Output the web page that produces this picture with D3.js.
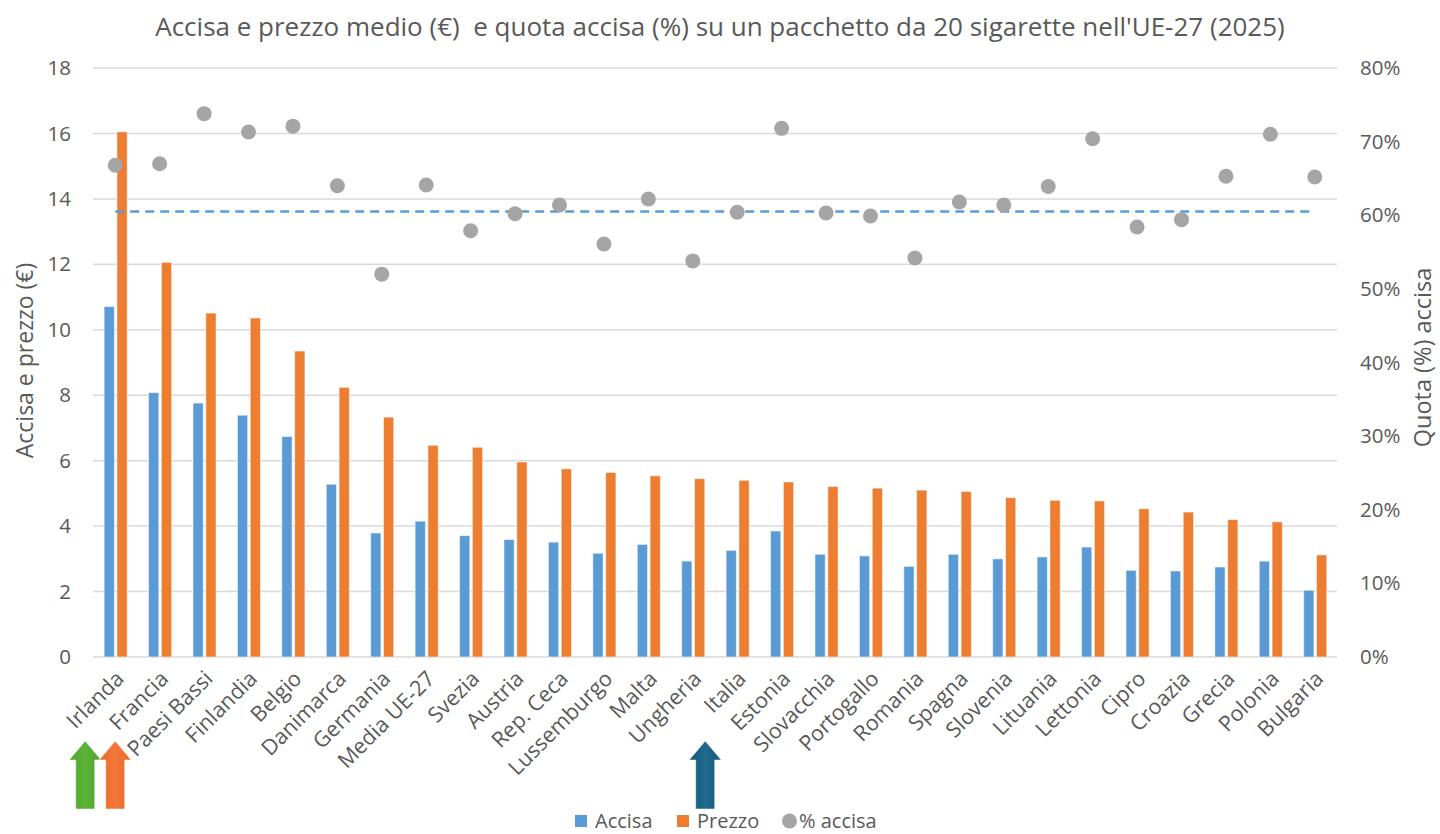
<!DOCTYPE html>
<html>
<head>
<meta charset="utf-8">
<script src="https://cdn.jsdelivr.net/npm/d3@7"></script>
<style>
  html, body { margin: 0; padding: 0; background: #fff; }
  svg { display: block; font-family: "Open Sans", "Noto Sans", sans-serif; }
</style>
</head>
<body>
<svg id="chart" width="1440" height="834"></svg>
<script>
// ---- data ----
const categories = ["Irlanda","Francia","Paesi Bassi","Finlandia","Belgio","Danimarca","Germania","Media UE-27","Svezia","Austria","Rep. Ceca","Lussemburgo","Malta","Ungheria","Italia","Estonia","Slovacchia","Portogallo","Romania","Spagna","Slovenia","Lituania","Lettonia","Cipro","Croazia","Grecia","Polonia","Bulgaria"];
const accisa = [10.71,8.08,7.76,7.39,6.74,5.28,3.79,4.15,3.71,3.59,3.51,3.17,3.44,2.93,3.26,3.85,3.14,3.09,2.77,3.14,3.00,3.06,3.36,2.65,2.63,2.75,2.93,2.04];
const prezzo = [16.05,12.06,10.51,10.36,9.35,8.24,7.33,6.47,6.41,5.96,5.75,5.64,5.54,5.45,5.40,5.35,5.21,5.16,5.10,5.06,4.87,4.79,4.77,4.53,4.43,4.20,4.13,3.12];
const quota = [0.668,0.670,0.738,0.713,0.721,0.640,0.520,0.641,0.579,0.602,0.614,0.561,0.622,0.538,0.604,0.718,0.603,0.599,0.542,0.618,0.614,0.639,0.704,0.584,0.594,0.653,0.710,0.652];
const quotaReference = 0.605;
const leftTicks = [0,2,4,6,8,10,12,14,16,18];
const rightTicks = [0,0.1,0.2,0.3,0.4,0.5,0.6,0.7,0.8];
const seriesNames = ["Accisa","Prezzo","% accisa"];
const titleText = "Accisa e prezzo medio (€)  e quota accisa (%) su un pacchetto da 20 sigarette nell'UE-27 (2025)";
const leftTitle = "Accisa e prezzo (€)";
const rightTitle = "Quota (%) accisa";

// ---- layout ----
const colors = { Accisa: "#5B9BD5", Prezzo: "#ED7D31", dot: "#A5A5A5" };
const textColor = "#595959";
const plot = { left: 93, right: 1337, top: 68, bottom: 657 };
const tickFont = "20.5px";

const svg = d3.select("#chart");

const x0 = d3.scaleBand().domain(categories).range([plot.left, plot.right]).padding(0);
const x1 = d3.scaleBand().domain(["Accisa","Prezzo"])
  .range([x0.bandwidth() * 0.25, x0.bandwidth() * 0.77]).paddingInner(0.2);
const y = d3.scaleLinear().domain([0, 18]).range([plot.bottom, plot.top]);
const y2 = d3.scaleLinear().domain([0, 0.8]).range([plot.bottom, plot.top]);

// gridlines
svg.append("g").selectAll("line").data(leftTicks).join("line")
  .attr("x1", plot.left).attr("x2", plot.right)
  .attr("y1", d => y(d)).attr("y2", d => y(d))
  .attr("stroke", "#D9D9D9").attr("stroke-width", 1.5);

// left axis
const gl = svg.append("g").attr("transform", `translate(${plot.left - 22},0)`)
  .call(d3.axisLeft(y).tickValues(leftTicks).tickSize(0).tickPadding(0).tickFormat(d3.format("d")));
gl.select(".domain").remove();
gl.selectAll("text").attr("fill", textColor).style("font-size", tickFont).style("font-family", "'Open Sans', sans-serif");

// right axis
const gr = svg.append("g").attr("transform", `translate(${plot.right + 23},0)`)
  .call(d3.axisRight(y2).tickValues(rightTicks).tickSize(0).tickPadding(0).tickFormat(d3.format(".0%")));
gr.select(".domain").remove();
gr.selectAll("text").attr("fill", textColor).style("font-size", tickFont).style("font-family", "'Open Sans', sans-serif");

// bars
const rows = categories.map((c, i) => ({ c, Accisa: accisa[i], Prezzo: prezzo[i], q: quota[i] }));
const groups = svg.append("g").selectAll("g").data(rows).join("g")
  .attr("transform", d => `translate(${x0(d.c)},0)`);
groups.selectAll("rect").data(d => ["Accisa","Prezzo"].map(k => ({ k, v: d[k] }))).join("rect")
  .attr("x", d => x1(d.k)).attr("width", x1.bandwidth())
  .attr("y", d => y(d.v)).attr("height", d => y(0) - y(d.v))
  .attr("fill", d => colors[d.k])
  .attr("stroke", "#ffffff").attr("stroke-opacity", 0.55).attr("stroke-width", 1);

// reference dashed line
svg.append("line")
  .attr("x1", x0(categories[0]) + x0.bandwidth() / 2)
  .attr("x2", x0(categories[categories.length - 1]) + x0.bandwidth() / 2)
  .attr("y1", y2(quotaReference)).attr("y2", y2(quotaReference))
  .attr("stroke", "#5B9BD5").attr("stroke-width", 2.5).attr("stroke-dasharray", "9,6");

// dots
svg.append("g").selectAll("circle").data(rows).join("circle")
  .attr("cx", d => x0(d.c) + x0.bandwidth() / 2)
  .attr("cy", d => y2(d.q))
  .attr("r", 7.5).attr("fill", colors.dot);

// x labels
svg.append("g").selectAll("text").data(categories).join("text")
  .attr("transform", d => `translate(${x0(d) + x0.bandwidth() / 2 + 10},${plot.bottom + 23}) rotate(-45)`)
  .attr("text-anchor", "end")
  .attr("fill", textColor).style("font-size", "21.5px")
  .text(d => d);

// title
svg.append("text").attr("x", 720).attr("y", 36).attr("text-anchor", "middle")
  .attr("fill", textColor).style("font-size", "26px").style("white-space", "pre").text(titleText);

// axis titles
svg.append("text").attr("transform", `translate(33,${(plot.top + plot.bottom) / 2 - 2}) rotate(-90)`)
  .attr("text-anchor", "middle").attr("fill", textColor).style("font-size", "23px").text(leftTitle);
svg.append("text").attr("transform", `translate(1431,${(plot.top + plot.bottom) / 2 - 5}) rotate(-90)`)
  .attr("text-anchor", "middle").attr("fill", textColor).style("font-size", "23.5px").text(rightTitle);

// legend
const legend = svg.append("g").attr("transform", "translate(575,0)");
const legItems = [
  { name: seriesNames[0], type: "rect", color: colors.Accisa, x: 0 },
  { name: seriesNames[1], type: "rect", color: colors.Prezzo, x: 102 },
  { name: seriesNames[2], type: "circle", color: colors.dot, x: 207 }
];
const legBase = 828;
legItems.forEach(it => {
  const g = legend.append("g").attr("transform", `translate(${it.x},0)`);
  if (it.type === "rect") {
    g.append("rect").attr("x", 0).attr("y", legBase - 13).attr("width", 12).attr("height", 12).attr("fill", it.color);
    g.append("text").attr("x", 20).attr("y", legBase).attr("fill", textColor).style("font-size", "20px").text(it.name);
  } else {
    g.append("circle").attr("cx", 7.5).attr("cy", legBase - 7).attr("r", 7.5).attr("fill", it.color);
    g.append("text").attr("x", 17).attr("y", legBase).attr("fill", textColor).style("font-size", "20px").text(it.name);
  }
});

// annotation arrows (decorative)
const defs = svg.append("defs");
function grad(id, c1, c2) {
  const g = defs.append("linearGradient").attr("id", id).attr("x1", "0").attr("x2", "1").attr("y1", "0").attr("y2", "0");
  g.append("stop").attr("offset", "0").attr("stop-color", c1);
  g.append("stop").attr("offset", "0.5").attr("stop-color", c2);
  g.append("stop").attr("offset", "1").attr("stop-color", c1);
}
grad("gGreen", "#4EA72E", "#5AB236");
grad("gOrange", "#EF6A26", "#F0773A");
grad("gBlue", "#145A7C", "#1F6A8E");
function arrow(cx, fill) {
  const p = d3.path();
  const top = 741, headBase = 760, bottom = 809, hw = 16, sw = 9.5;
  p.moveTo(cx, top); p.lineTo(cx + hw, headBase); p.lineTo(cx + sw, headBase);
  p.lineTo(cx + sw, bottom); p.lineTo(cx - sw, bottom); p.lineTo(cx - sw, headBase);
  p.lineTo(cx - hw, headBase); p.closePath();
  svg.append("path").attr("d", p.toString()).attr("fill", fill).attr("stroke", "#ffffff").attr("stroke-opacity", 0.5).attr("stroke-width", 1);
}
const c0 = x0(categories[0]) + x0.bandwidth() / 2;
const cIt = x0("Italia") + x0.bandwidth() / 2;
arrow(c0 - 30, "url(#gGreen)");
arrow(c0, "url(#gOrange)");
arrow(cIt - 32, "url(#gBlue)");
</script>
</body>
</html>
